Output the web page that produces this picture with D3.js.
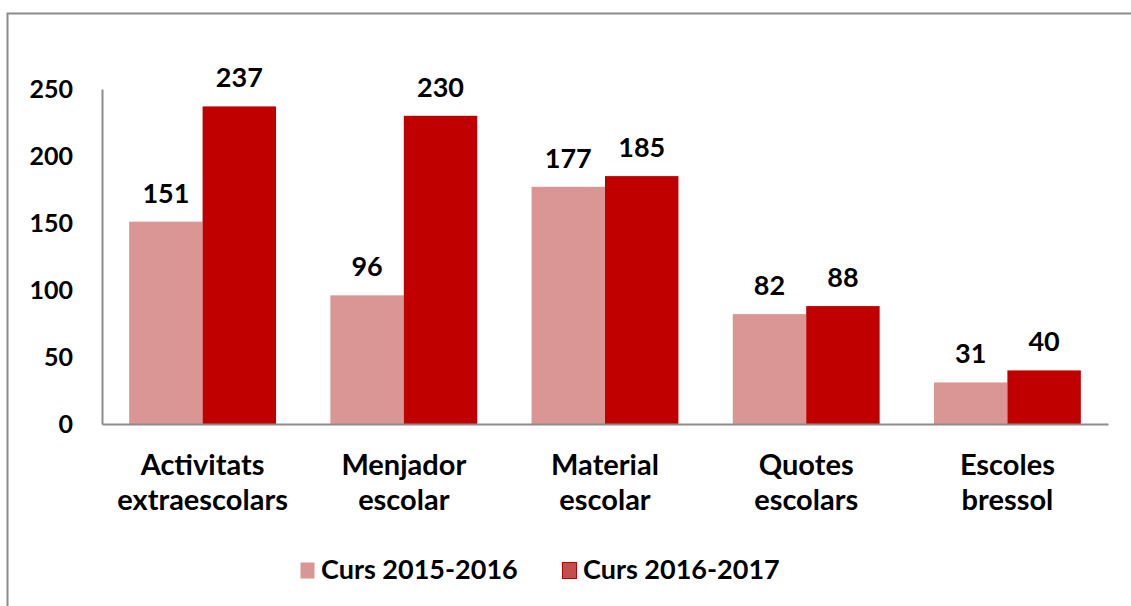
<!DOCTYPE html>
<html>
<head>
<meta charset="utf-8">
<script src="https://cdn.jsdelivr.net/npm/d3@7"></script>
<style>
    body { margin: 0; background: #fff; }
    svg text { font-family: Lato, "Open Sans", sans-serif; font-weight: 700; fill: #000; }
</style>
</head>
<body>
<div id="chart"></div>
<script>
// chart data
var categories = [
    ["Activitats", "extraescolars"],
    ["Menjador", "escolar"],
    ["Material", "escolar"],
    ["Quotes", "escolars"],
    ["Escoles", "bressol"]
];
var seriesNames = ["Curs 2015-2016", "Curs 2016-2017"];
var curs2015 = [151, 96, 177, 82, 31];
var curs2016 = [237, 230, 185, 88, 40];
var yTicks = [0, 50, 100, 150, 200, 250];
var colors = ["#d99694", "#c00000"];

function init() {
    var w = 1131,
        h = 606;

    var svg = d3.select("#chart")
        .append("svg")
        .attr("width", w)
        .attr("height", h);

    // outer frame (right/bottom edges fall outside the picture)
    svg.append("rect")
        .attr("x", 7.5)
        .attr("y", 13.5)
        .attr("width", w + 10)
        .attr("height", h + 10)
        .attr("fill", "none")
        .attr("stroke", "#8c8c8c")
        .attr("stroke-width", 2);

    var keys = categories.map(function (c) { return c.join(" "); });
    var data = keys.map(function (k, i) {
        return { key: k, lines: categories[i], values: [curs2015[i], curs2016[i]] };
    });

    var xScale = d3.scaleBand()
        .domain(keys)
        .range([102, 1108])
        .paddingInner(0.27)
        .paddingOuter(0.135);

    var xInner = d3.scaleBand()
        .domain([0, 1])
        .range([0, xScale.bandwidth()]);

    var yScale = d3.scaleLinear()
        .domain([0, 250])
        .range([424, 89]);

    // bars
    var groups = svg.selectAll(".cat")
        .data(data)
        .enter()
        .append("g")
        .attr("class", "cat")
        .attr("transform", function (d) { return "translate(" + xScale(d.key) + ",0)"; });

    groups.selectAll("rect")
        .data(function (d) { return d.values; })
        .enter()
        .append("rect")
        .attr("x", function (d, i) { return xInner(i); })
        .attr("y", function (d) { return yScale(d); })
        .attr("width", xInner.bandwidth())
        .attr("height", function (d) { return yScale(0) - yScale(d); })
        .attr("fill", function (d, i) { return colors[i]; });

    groups.selectAll(".val")
        .data(function (d) { return d.values; })
        .enter()
        .append("text")
        .attr("class", "val")
        .attr("x", function (d, i) { return xInner(i) + xInner.bandwidth() / 2; })
        .attr("y", function (d) { return yScale(d) - 19; })
        .attr("text-anchor", "middle")
        .attr("font-size", "27px")
        .text(function (d) { return d; });

    // axes
    var yAxis = d3.axisLeft(yScale).tickValues(yTicks).tickSize(0).tickPadding(29);
    var gy = svg.append("g")
        .attr("transform", "translate(102,0)")
        .call(yAxis);
    gy.select(".domain").attr("stroke", "#8c8c8c").attr("stroke-width", 2);
    gy.selectAll("text")
        .attr("font-size", "25px")
        .attr("font-family", null)
        .attr("dy", "0.35em");

    var xAxis = d3.axisBottom(xScale).tickSize(0).tickFormat("");
    var gx = svg.append("g")
        .attr("transform", "translate(0,424)")
        .call(xAxis);
    gx.select(".domain").attr("stroke", "#8c8c8c").attr("stroke-width", 2);

    // category labels on two lines
    gx.selectAll(".tick").each(function (d, i) {
        var t = d3.select(this).append("text")
            .attr("text-anchor", "middle")
            .attr("font-size", "29px");
        categories[i].forEach(function (line, j) {
            t.append("tspan")
                .attr("x", 0)
                .attr("y", 51 + j * 35)
                .text(line);
        });
    });

    // legend
    var legend = svg.append("g").attr("transform", "translate(0,570)");
    var legendX = [300, 562];
    seriesNames.forEach(function (name, i) {
        var g = legend.append("g").attr("transform", "translate(" + legendX[i] + ",0)");
        g.append("rect")
            .attr("x", 0.5)
            .attr("y", -7.5)
            .attr("width", 14)
            .attr("height", 16)
            .attr("fill", i === 0 ? colors[0] : "#c0504d")
            .attr("stroke", i === 0 ? "none" : colors[1])
            .attr("stroke-width", 1);
        g.append("text")
            .attr("x", 21)
            .attr("y", 0)
            .attr("dy", "0.35em")
            .attr("font-size", "27px")
            .text(name);
    });
}

window.onload = init;
</script>
</body>
</html>
